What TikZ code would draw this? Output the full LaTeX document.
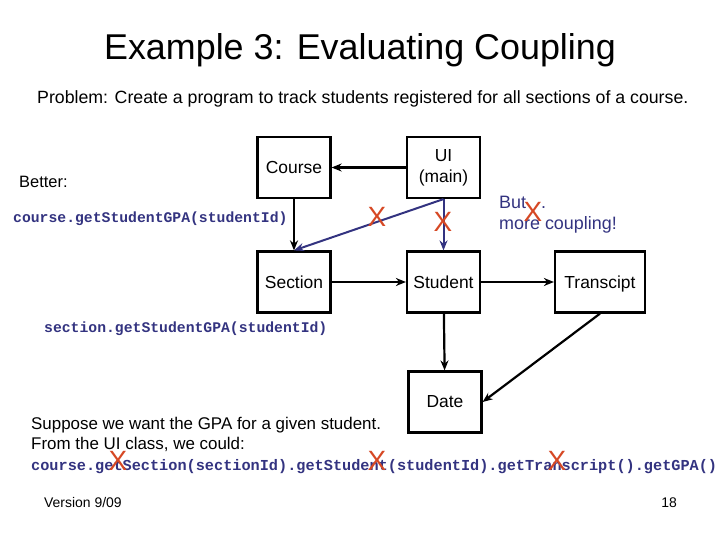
\documentclass[tikz,border=0pt]{standalone}
\usepackage{fontspec}
\setmainfont{Liberation Sans}
\setmonofont{Liberation Mono}
\usetikzlibrary{arrows.meta}
\definecolor{codeblue}{RGB}{51,51,128}
\definecolor{crossred}{RGB}{214,72,36}
\tikzset{
  classbox/.style={draw, line width=2.2bp, minimum width=73bp, minimum height=61bp, inner sep=1bp, align=center, font=\fontsize{17.5}{21}\selectfont},
  link/.style={-{Stealth[length=10bp,width=8bp]}, line width=2.2bp},
  bluelink/.style={-{Stealth[length=10bp,width=8bp]}, line width=2bp, codeblue},
  code/.style={anchor=west, inner sep=0pt, text=codeblue, font=\fontsize{14.8}{17}\selectfont\ttfamily\bfseries},
  plain/.style={anchor=west, inner sep=0pt, font=\fontsize{17}{19}\selectfont}
}
\begin{document}
\begin{tikzpicture}[x=1bp, y=-1bp]
   \useasboundingbox (0,0) rectangle (720,540);
   \node (title) at (360,50) {\fontsize{36}{40}\selectfont Example 3: Evaluating Coupling};
   \node[plain, font=\fontsize{17.8}{20}\selectfont] (problem) at (37,99) {Problem: Create a program to track students registered for all sections of a course.};

   % the classes
   \node[classbox] (course) at (294,167.5) {Course};
   \node[classbox] (ui) at (443.5,167.5) {UI\\(main)};
   \node[classbox] (section) at (294,282) {Section};
   \node[classbox] (student) at (443.5,282) {Student};
   \node[classbox, minimum width=90bp, text depth=0pt] (transcipt) at (600,282) {Transcipt};
   \node[classbox] (date) at (445,402) {Date};

   \draw[link] (ui) -- (course);
   \draw[link] (course) -- (section);
   \draw[bluelink] (ui.south) -- (section.north);
   \draw[bluelink] (ui) -- (student);
   \draw[link] (section) -- (student);
   \draw[link] (student) -- (transcipt);
   \draw[link] (student) -- (date);
   \draw[link] (transcipt.south) -- (date.east);

   \node[plain, font=\fontsize{16.5}{19}\selectfont] (better) at (19,182) {Better:};
   \node[code] (coursecall) at (13,219) {course.getStudentGPA(studentId)};
   \node[code] (sectioncall) at (44,329) {section.getStudentGPA(studentId)};
   \node[plain, text=codeblue, font=\fontsize{18}{21}\selectfont, align=left] (but) at (499,215) {But \ \ .\\more coupling!};

   \node[plain] (suppose) at (31,425) {Suppose we want the GPA for a given student.};
   \node[plain] (from) at (31,444) {From the UI class, we could:};
   \node[code, font=\fontsize{15.3}{17}\selectfont\ttfamily\bfseries] (chain) at (31,467) {course.getSection(sectionId).getStudent(studentId).getTranscript().getGPA()};

   \node[plain, font=\fontsize{14}{16}\selectfont] (version) at (44,503) {Version 9/09};
   \node[font=\fontsize{14}{16}\selectfont] (page) at (669,503) {18};

   % the crossings out
   \foreach \x/\y/\n in {377/217/a, 443/222/b, 533/212/c, 118/461/d, 377/461/e, 557/461/f}
     \node[text=crossred, inner sep=0pt, font=\fontsize{28}{30}\selectfont] (cross\n) at (\x,\y) {X};
\end{tikzpicture}
\end{document}
